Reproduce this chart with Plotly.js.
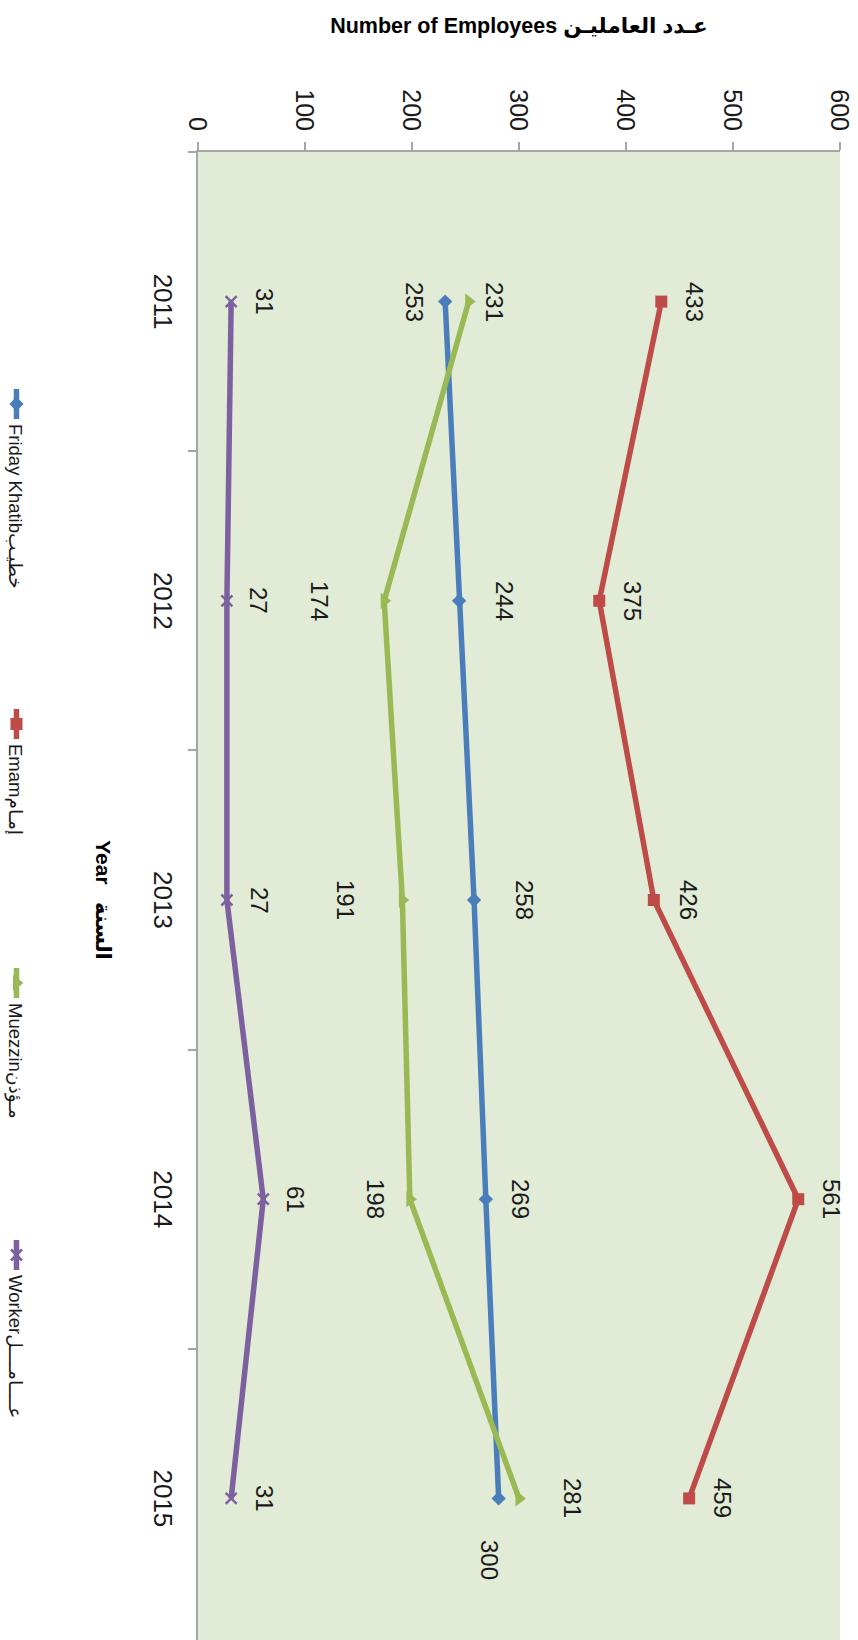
<!DOCTYPE html>
<html>
<head>
<meta charset="utf-8">
<script src="https://cdn.plot.ly/plotly-3.0.1.min.js"></script>
<style>
  html, body { margin: 0; padding: 0; width: 858px; height: 1640px; overflow: hidden; background: #ffffff; }
  #chart { position: absolute; left: 0; top: 0; width: 1648px; height: 858px; transform-origin: 0 0; }
</style>
</head>
<body>
<div id="chart"></div>
<script>
// ---- data ----
const years = ['2011', '2012', '2013', '2014', '2015'];
const fridayKhatib = [231, 244, 258, 269, 281];
const emam = [433, 375, 426, 561, 459];
const muezzin = [253, 174, 191, 198, 300];
const worker = [31, 27, 27, 61, 31];
const seriesNames = ['Friday Khatibخطيـب', 'Emamإمـام', 'Muezzinمـؤذن', 'Workerعــــامــــل'];
const yTicks = [0, 100, 200, 300, 400, 500, 600];
const yTitle = 'Number of Employees عـدد العامليـن';
const xTitle = 'Year   السنة';

// ---- styles ----
const W = 1648, H = 858;
const colors = ['#4A7EBB', '#BE4B48', '#98B954', '#7D60A0'];
const symbols = ['diamond', 'square', 'triangle-up', 'x-thin-open'];
const msizes = [11, 12, 14, 11];
// label offsets (px) relative to each point: up and right, in chart coordinates
const labelUp = [
  [49, 45, 50, 35, 74],
  [33, 33, 35, 33, 33],
  [-54, -65, -57, -34, -29],
  [33, 32, 33, 32, 33]
];
const labelRight = [
  [0, 0, 0, 0, 0],
  [0, 0, 0, 0, 0],
  [0, 0, 0, 0, 62],
  [0, 0, 0, 0, 0]
];
const legendTextStart = [426, 746, 1005, 1277];

const allSeries = [fridayKhatib, emam, muezzin, worker];
const FONT = 'Liberation Sans, Arial, DejaVu Sans, sans-serif';

const traces = allSeries.map((vals, s) => ({
  type: 'scatter',
  mode: 'lines+markers',
  x: years,
  y: vals,
  name: seriesNames[s],
  legend: s === 0 ? 'legend' : 'legend' + (s + 1),
  line: { color: colors[s], width: 5.5 },
  marker: {
    symbol: symbols[s], size: msizes[s], color: colors[s],
    line: { color: colors[s], width: s === 3 ? 2.5 : 0 }
  },
  hoverinfo: 'x+y'
}));

const annotations = [];
allSeries.forEach((vals, s) => {
  vals.forEach((v, i) => {
    annotations.push({
      x: years.indexOf(years[i]), y: v, xref: 'x', yref: 'y',
      text: String(v), showarrow: false,
      xshift: labelRight[s][i], yshift: labelUp[s][i],
      font: { family: FONT, size: 24, color: '#1a1a1a' }
    });
  });
});

const layout = {
  width: W, height: H,
  margin: { l: 152, r: 0, t: 18, b: 198 },
  paper_bgcolor: '#ffffff',
  plot_bgcolor: '#E1EBD6',
  font: { family: FONT, color: '#1a1a1a' },
  xaxis: {
    type: 'category',
    range: [-0.5, 4.5],
    tickson: 'boundaries',
    ticks: 'outside', ticklen: 8, tickwidth: 2, tickcolor: '#A6A6A6',
    showline: true, linecolor: '#A6A6A6', linewidth: 2,
    showgrid: false, zeroline: false,
    tickfont: { family: FONT, size: 26, color: '#1a1a1a' },
    ticklabelstandoff: 11,
    automargin: false,
    title: { text: xTitle, font: { family: FONT, size: 21, color: '#000000', weight: 'bold' }, standoff: 38 }
  },
  yaxis: {
    range: [0, 600],
    tickvals: yTicks,
    ticks: 'outside', ticklen: 8, tickwidth: 2, tickcolor: '#A6A6A6',
    showline: true, linecolor: '#A6A6A6', linewidth: 2,
    showgrid: false, zeroline: false,
    tickfont: { family: FONT, size: 25, color: '#1a1a1a' },
    ticklabelstandoff: 6,
    automargin: false,
    title: { text: yTitle, font: { family: FONT, size: 21.5, color: '#000000', weight: 'bold' }, standoff: 50 }
  },
  annotations: annotations,
  showlegend: true
};

const legendFont = { family: FONT, size: 18.5, color: '#1a1a1a' };
['legend', 'legend2', 'legend3', 'legend4'].forEach((k, s) => {
  layout[k] = {
    orientation: 'h',
    xref: 'container', yref: 'container',
    x: (legendTextStart[s] - 42) / W, xanchor: 'left',
    y: 16 / H, yanchor: 'middle',
    bgcolor: 'rgba(0,0,0,0)', borderwidth: 0,
    font: legendFont
  };
});

Plotly.newPlot('chart', traces, layout, { displayModeBar: false, staticPlot: true }).then(() => {
  const el = document.getElementById('chart');
  el.style.transform = 'translate(' + H + 'px, 0px) rotate(90deg)';
});
</script>
</body>
</html>
